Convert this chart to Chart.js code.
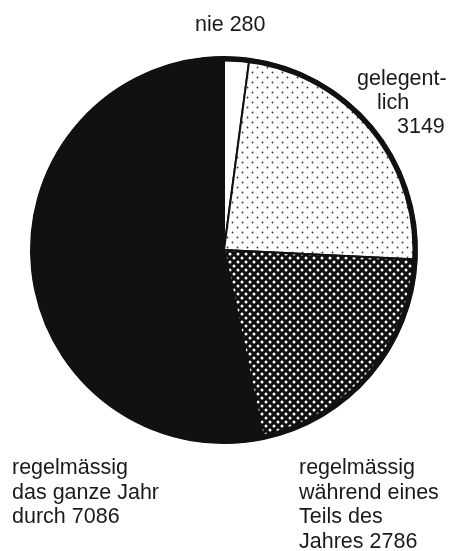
<!DOCTYPE html>
<html>
<head>
<meta charset="utf-8">
<script src="https://cdn.jsdelivr.net/npm/chart.js@4"></script>
<style>
  html, body { margin: 0; padding: 0; background: #fff; }
  #wrap { position: relative; width: 451px; height: 551px; overflow: hidden; }
  #pie { position: absolute; left: 0; top: 0; }
  .lbl { position: absolute; font-family: "Liberation Sans", Arial, sans-serif; font-size: 21.5px; color: #1a1a1a; line-height: 24.5px; white-space: nowrap; }
</style>
</head>
<body>
<div id="wrap">
  <canvas id="pie" width="451" height="551"></canvas>
  <div class="lbl" style="left:195px; top:12px;">nie 280</div>
  <div class="lbl" style="left:357px; top:66px;">gelegent-</div>
  <div class="lbl" style="left:377px; top:90px;">lich</div>
  <div class="lbl" style="left:397px; top:114px;">3149</div>
  <div class="lbl" style="left:12px; top:455px;">regelmässig<br>das ganze Jahr<br>durch 7086</div>
  <div class="lbl" style="left:299px; top:455px;">regelmässig<br>während eines<br>Teils des<br>Jahres 2786</div>
</div>
<script>
// values (clockwise from 12 o'clock)
const labels = ["nie", "gelegentlich", "regelmässig während eines Teils des Jahres", "regelmässig das ganze Jahr durch"];
const counts = [280, 3149, 2786, 7086];

function dotPattern(bg, fg, size, r) {
  const c = document.createElement("canvas");
  c.width = size; c.height = size;
  const g = c.getContext("2d");
  g.fillStyle = bg;
  g.fillRect(0, 0, size, size);
  g.fillStyle = fg;
  [[size / 4, size / 4], [size * 3 / 4, size * 3 / 4]].forEach(([x, y]) => {
    g.beginPath();
    g.arc(x, y, r, 0, Math.PI * 2);
    g.fill();
  });
  return g.createPattern(c, "repeat");
}

const ctx = document.getElementById("pie").getContext("2d");
const fills = [
  "#ffffff",
  dotPattern("#ffffff", "#333333", 10, 0.9),
  dotPattern("#111111", "#ffffff", 8, 1.5),
  "#111111"
];

// thick outer rim drawn from the arc geometry
const rim = {
  id: "rim",
  afterDatasetsDraw(chart) {
    const a = chart.getDatasetMeta(0).data[0];
    const c = chart.ctx;
    c.save();
    c.lineWidth = 5;
    c.strokeStyle = "#111";
    c.beginPath();
    c.arc(a.x, a.y, a.outerRadius - 2, 0, Math.PI * 2);
    c.stroke();
    c.restore();
  }
};

new Chart(ctx, {
  type: "pie",
  data: {
    labels: labels,
    datasets: [{ data: counts, backgroundColor: fills, borderColor: "#111", borderWidth: 2 }]
  },
  options: {
    responsive: false,
    animation: false,
    layout: { padding: { left: 30, right: 33, top: 56, bottom: 107 } },
    plugins: { legend: { display: false }, tooltip: { enabled: false } }
  },
  plugins: [rim]
});
</script>
</body>
</html>
